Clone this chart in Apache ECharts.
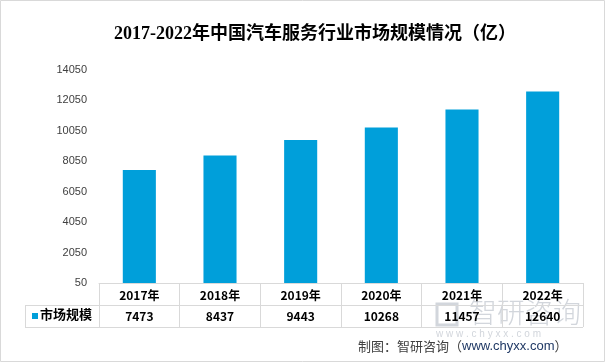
<!DOCTYPE html>
<html><head><meta charset="utf-8">
<script src="https://cdn.jsdelivr.net/npm/echarts@6/dist/echarts.min.js"></script>
<style>html,body{margin:0;padding:0;background:#fff}#c{width:605px;height:362px}</style>
</head><body><div id="c"></div>
<script>
const categories = ['2017年','2018年','2019年','2020年','2021年','2022年'];
const seriesName = '市场规模';
const marketSize = [7473, 8437, 9443, 10268, 11457, 12640];
const yMin = 50, yMax = 14050, yStep = 2000;

const chart = echarts.init(document.getElementById('c'));
const lineCol = '#d9d9d9';
const cjk = '"Noto Sans CJK SC", "Noto Sans", sans-serif';
chart.setOption({
  animation: false,
  backgroundColor: '#fff',
  title: {
    text: '2017-2022年中国汽车服务行业市场规模情况（亿）',
    left: 109, top: 20,
    textStyle: { fontFamily: '"Liberation Serif", "Noto Sans CJK SC", serif', fontSize: 18, fontWeight: 'bold', color: '#000' }
  },
  grid: { left: 99, right: 22, top: 70, bottom: 79 },
  xAxis: [{
    type: 'category', data: categories, position: 'bottom',
    axisLine: { show: true, lineStyle: { color: lineCol, width: 1 } },
    axisTick: { show: true, length: 44, alignWithLabel: false, lineStyle: { color: lineCol } },
    axisLabel: { margin: 6, fontFamily: cjk, fontSize: 12, fontWeight: 'bold', color: '#000' }
  }, {
    type: 'category', data: categories, position: 'bottom', offset: 22,
    axisLine: { show: true, lineStyle: { color: lineCol, width: 1 } },
    axisTick: { show: false },
    axisLabel: { margin: 5, fontFamily: cjk, fontSize: 12, fontWeight: 'bold', color: '#000',
      formatter: (v, i) => String(marketSize[i]) }
  }],
  yAxis: {
    type: 'value', min: yMin, max: yMax, interval: yStep,
    axisLine: { show: false }, axisTick: { show: false }, splitLine: { show: false },
    axisLabel: { margin: 12, fontFamily: '"Liberation Sans", sans-serif', fontSize: 11, color: '#404040',
      formatter: v => String(v) }
  },
  series: [{
    type: 'bar', name: seriesName, data: marketSize, barWidth: '41%',
    itemStyle: { color: '#009FDA' }
  }],
  graphic: [
    { type: 'rect', shape: { x: 0.5, y: 0.5, width: 604, height: 361 }, style: { fill: 'none', stroke: '#d9d9d9', lineWidth: 1 }, silent: true, z: 0 },
    { type: 'line', shape: { x1: 25, y1: 305.5, x2: 99, y2: 305.5 }, style: { stroke: lineCol, lineWidth: 1 } },
    { type: 'line', shape: { x1: 25, y1: 327.5, x2: 583, y2: 327.5 }, style: { stroke: lineCol, lineWidth: 1 } },
    { type: 'line', shape: { x1: 25.5, y1: 305, x2: 25.5, y2: 327 }, style: { stroke: lineCol, lineWidth: 1 } },
    { type: 'rect', shape: { x: 32, y: 313, width: 6, height: 6 }, style: { fill: '#009FDA' } },
    { type: 'text', left: 40, top: 308, style: { text: seriesName, font: 'bold 13px ' + cjk, fill: '#000' } },
    { type: 'text', left: 469, top: 298, z: -1, style: { text: '智研咨询', font: '300 28px ' + cjk, fill: '#d2d6dc' } },
    { type: 'rect', z: -1, shape: { x: 437, y: 304, width: 20, height: 21 }, style: { fill: 'none', stroke: '#d2d6dc', lineWidth: 3 } },
    { type: 'text', left: 436, top: 329, z: -1, style: { text: 'w w w . c h y x x . c o m', font: '10px "Liberation Sans", sans-serif', fill: '#d2d6dc' } },
    { type: 'text', left: 358, top: 340, style: { text: '{a|制图：智研咨询（}{b|www.chyxx.com}{a|）}',
      rich: { a: { font: '13px ' + cjk, fill: '#404040' }, b: { font: '13px "Liberation Sans", sans-serif', fill: '#1f3864' } } } }
  ]
});
</script></body></html>
